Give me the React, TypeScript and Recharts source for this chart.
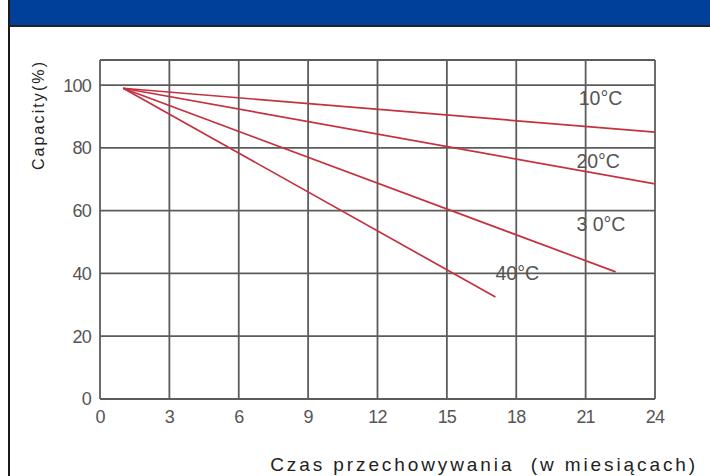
import React from 'react';
import { LineChart, Line, XAxis, YAxis, CartesianGrid, ReferenceLine, ReferenceDot, Label } from 'recharts';

const xTicks = [0, 3, 6, 9, 12, 15, 18, 21, 24];
const yTicks = [0, 20, 40, 60, 80, 100];

const series10 = [
  { m: 1, c: 99 },
  { m: 24, c: 85 },
];
const series20 = [
  { m: 1, c: 99 },
  { m: 24, c: 68.5 },
];
const series30 = [
  { m: 1, c: 99 },
  { m: 22.3, c: 40.5 },
];
const series40 = [
  { m: 1, c: 99 },
  { m: 17.1, c: 32.5 },
];

const seriesNames = ['10°C', '20°C', '3 0°C', '40°C'];
const labelMonths = [20.7, 20.6, 20.6, 17.1];
const labelValues = [95.9, 75.8, 55.7, 40.1];

const allSeries = [series10, series20, series30, series40];

const FONT = '"Liberation Sans", Arial, sans-serif';
const RED = '#c5313f';
const GRID = '#5c5c5c';

const YTitle = (props: any) => {
  const vb = props.viewBox;
  const cx = vb.x + 38.5;
  const cy = 115;
  return (
    <text
      x={cx}
      y={cy}
      transform={`rotate(-90 ${cx} ${cy})`}
      textAnchor="middle"
      dominantBaseline="central"
      fontFamily={FONT}
      fontSize={16}
      letterSpacing={2.1}
      fill="#222"
    >
      Capacity(%)
    </text>
  );
};

const XTitle = () => {
  return (
    <text
      x={698}
      y={471}
      textAnchor="end"
      fontFamily={FONT}
      fontSize={19}
      letterSpacing={2.9}
      fill="#222"
      style={{ whiteSpace: 'pre' }}
    >
      Czas przechowywania  (w miesiącach)
    </text>
  );
};

export default function App() {
  return (
    <div style={{ position: 'absolute', left: 0, top: 0, width: 710, height: 476, background: '#fff', overflow: 'hidden' }}>
      <LineChart
        width={710}
        height={476}
        margin={{ top: 60, right: 55, bottom: 0, left: 0 }}
        style={{ position: 'absolute', left: 0, top: 0 }}
      >
        <CartesianGrid stroke={GRID} strokeWidth={1.8} horizontal vertical />
        <XAxis
          type="number"
          dataKey="m"
          domain={[0, 24]}
          ticks={xTicks}
          interval={0}
          axisLine={false}
          tickLine={false}
          tickMargin={5}
          height={77}
          tick={{ fontFamily: FONT, fontSize: 18, fill: '#555', letterSpacing: -0.8 }}
          allowDataOverflow
        >
          <Label content={XTitle} />
        </XAxis>
        <YAxis
          type="number"
          dataKey="c"
          domain={[0, 108]}
          ticks={yTicks}
          interval={0}
          axisLine={false}
          tickLine={false}
          tickMargin={3}
          width={100}
          tick={{ fontFamily: FONT, fontSize: 18, fill: '#555', letterSpacing: -0.8 }}
          allowDataOverflow
        >
          <Label content={YTitle} />
        </YAxis>
        <ReferenceLine y={108} stroke={GRID} strokeWidth={1.8} ifOverflow="extendDomain" />
        {allSeries.map((s, i) => (
          <Line
            key={i}
            data={s}
            dataKey="c"
            type="linear"
            stroke={RED}
            strokeWidth={1.7}
            dot={false}
            activeDot={false}
            isAnimationActive={false}
          />
        ))}
        {seriesNames.map((n, i) => (
          <ReferenceDot
            key={n}
            x={labelMonths[i]}
            y={labelValues[i]}
            r={0}
            fill="none"
            stroke="none"
            label={{
              value: n,
              position: 'right',
              offset: 0,
              fontFamily: FONT,
              fontSize: 19.5,
              fill: '#555',
            }}
          />
        ))}
      </LineChart>
      <div style={{ position: 'absolute', left: 9, top: 0, width: 701, height: 25, background: '#00409a', borderBottom: '2px solid #222' }} />
      <div style={{ position: 'absolute', left: 8, top: 0, width: 2, height: 476, background: '#1a1a1a' }} />
    </div>
  );
}
